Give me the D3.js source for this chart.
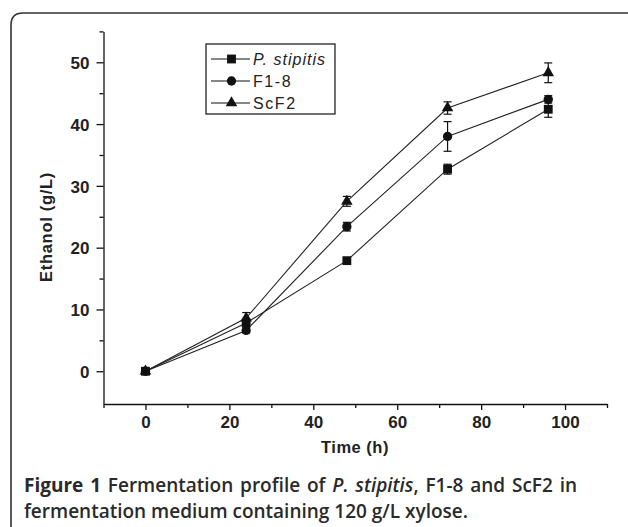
<!DOCTYPE html>
<html>
<head>
<meta charset="utf-8">
<script src="https://cdn.jsdelivr.net/npm/d3@7"></script>
<style>
  body { margin: 0; background: #fff; }
  svg { display: block; }
</style>
</head>
<body>
<div class="chart"></div>
<script>
// Data
const times = [0, 24, 48, 72, 96];
const seriesNames = ['P. stipitis', 'F1-8', 'ScF2'];
const pStipitis = [0, 7.8, 17.9, 32.7, 42.4];
const pStipitisErr = [0.3, 0.5, 0.4, 0.8, 1.3];
const f18 = [0, 6.6, 23.4, 38.0, 44.0];
const f18Err = [0.3, 0.4, 0.7, 2.4, 0.6];
const scf2 = [0, 8.6, 27.5, 42.6, 48.3];
const scf2Err = [0.3, 0.9, 0.8, 1.0, 1.6];
const xTicks = [0, 20, 40, 60, 80, 100];
const xMinor = [-10, 10, 30, 50, 70, 90, 110];
const yTicks = [0, 10, 20, 30, 40, 50];
const yMinor = [5, 15, 25, 35, 45, 55];

const width = 628, height = 527;
const ink = '#111';
const sans = '"Liberation Sans", Arial, sans-serif';

const svg = d3.select('.chart').append('svg')
  .attr('width', width)
  .attr('height', height);

svg.append('rect').attr('width', width).attr('height', height).attr('fill', '#fff');

// Figure frame (rounded top-left corner)
svg.append('path')
  .attr('d', 'M11,527 L11,25 Q11,13 23,13 L628,13')
  .attr('fill', 'none')
  .attr('stroke', '#333')
  .attr('stroke-width', 1.6);

const x = d3.scaleLinear().domain([-10, 110]).range([103.5, 607]);
const y = d3.scaleLinear().domain([-5.3, 55]).range([404, 31.4]);

const tickFont = g => g.attr('font-family', sans)
  .attr('font-size', 17)
  .attr('font-weight', 'bold');

// Minor ticks
svg.append('g')
  .attr('transform', `translate(0,${y.range()[0]})`)
  .call(d3.axisBottom(x).tickValues(xMinor).tickSize(4).tickFormat('').tickSizeOuter(0))
  .call(g => g.select('.domain').remove())
  .call(g => g.selectAll('line').attr('stroke', ink).attr('stroke-width', 1.3));

svg.append('g')
  .attr('transform', `translate(${x.range()[0]},0)`)
  .call(d3.axisLeft(y).tickValues(yMinor).tickSize(4).tickFormat('').tickSizeOuter(0))
  .call(g => g.select('.domain').remove())
  .call(g => g.selectAll('line').attr('stroke', ink).attr('stroke-width', 1.3));

// Major axes
svg.append('g')
  .attr('transform', `translate(0,${y.range()[0]})`)
  .call(d3.axisBottom(x).tickValues(xTicks).tickSize(6).tickPadding(6).tickSizeOuter(0))
  .call(tickFont)
  .call(g => g.select('.domain').attr('stroke', ink).attr('stroke-width', 1.3))
  .call(g => g.selectAll('line').attr('stroke', ink).attr('stroke-width', 1.3))
  .call(g => g.selectAll('text').attr('fill', '#222'));

svg.append('g')
  .attr('transform', `translate(${x.range()[0]},0)`)
  .call(d3.axisLeft(y).tickValues(yTicks).tickSize(7).tickPadding(7).tickSizeOuter(0))
  .call(tickFont)
  .call(g => g.select('.domain').attr('stroke', ink).attr('stroke-width', 1.3))
  .call(g => g.selectAll('line').attr('stroke', ink).attr('stroke-width', 1.3))
  .call(g => g.selectAll('text').attr('fill', '#222').attr('dy', '0.36em'));

// Axis titles
svg.append('text')
  .attr('x', 355)
  .attr('y', 453)
  .attr('text-anchor', 'middle')
  .attr('font-family', sans)
  .attr('font-size', 16.5)
  .attr('font-weight', 'bold')
  .attr('letter-spacing', 0.5)
  .attr('fill', '#222')
  .text('Time (h)');

svg.append('text')
  .attr('transform', 'translate(51.5,227) rotate(-90)')
  .attr('text-anchor', 'middle')
  .attr('font-family', sans)
  .attr('font-size', 16.5)
  .attr('font-weight', 'bold')
  .attr('letter-spacing', 0.7)
  .attr('fill', '#222')
  .text('Ethanol (g/L)');

// Series
const series = [
  { name: seriesNames[0], values: pStipitis, err: pStipitisErr, symbol: d3.symbolSquare, size: 78 },
  { name: seriesNames[1], values: f18, err: f18Err, symbol: d3.symbolCircle, size: 68 },
  { name: seriesNames[2], values: scf2, err: scf2Err, symbol: d3.symbolTriangle, size: 58 }
];

const line = d3.line()
  .x(d => x(d.t))
  .y(d => y(d.v));

series.forEach(s => {
  const pts = times.map((t, i) => ({ t: t, v: s.values[i], e: s.err[i] }));
  const g = svg.append('g').attr('class', 'series');

  g.append('path')
    .datum(pts)
    .attr('fill', 'none')
    .attr('stroke', '#222')
    .attr('stroke-width', 1.1)
    .attr('d', line);

  // Error bars
  const eb = g.selectAll('.err').data(pts).join('g').attr('class', 'err');
  eb.append('line')
    .attr('x1', d => x(d.t)).attr('x2', d => x(d.t))
    .attr('y1', d => y(d.v - d.e)).attr('y2', d => y(d.v + d.e))
    .attr('stroke', ink).attr('stroke-width', 1.2);
  eb.append('line')
    .attr('x1', d => x(d.t) - 4).attr('x2', d => x(d.t) + 4)
    .attr('y1', d => y(d.v + d.e)).attr('y2', d => y(d.v + d.e))
    .attr('stroke', ink).attr('stroke-width', 1.2);
  eb.append('line')
    .attr('x1', d => x(d.t) - 4).attr('x2', d => x(d.t) + 4)
    .attr('y1', d => y(d.v - d.e)).attr('y2', d => y(d.v - d.e))
    .attr('stroke', ink).attr('stroke-width', 1.2);

  g.selectAll('.marker').data(pts).join('path')
    .attr('class', 'marker')
    .attr('transform', d => `translate(${x(d.t)},${y(d.v)})`)
    .attr('d', d3.symbol().type(s.symbol).size(s.size))
    .attr('fill', ink);
});

// Legend
const legend = svg.append('g').attr('transform', 'translate(206,44)');
legend.append('rect')
  .attr('width', 129).attr('height', 70)
  .attr('fill', '#fff').attr('stroke', ink).attr('stroke-width', 1.2);

series.forEach((s, i) => {
  const row = legend.append('g').attr('transform', `translate(0,${15 + i * 22})`);
  row.append('line')
    .attr('x1', 5).attr('x2', 44)
    .attr('stroke', ink).attr('stroke-width', 1.2);
  row.append('path')
    .attr('transform', 'translate(25.5,0)')
    .attr('d', d3.symbol().type(s.symbol).size(s.size))
    .attr('fill', ink);
  row.append('text')
    .attr('x', 47).attr('dy', '0.36em')
    .attr('font-family', sans)
    .attr('font-size', 16)
    .attr('letter-spacing', i === 0 ? 1 : 1.6)
    .attr('font-style', i === 0 ? 'italic' : 'normal')
    .attr('fill', '#222')
    .text(s.name);
});

// Caption (first line justified to the column width)
const cap = svg.append('g')
  .attr('font-family', '"Open Sans", "Noto Sans", sans-serif')
  .attr('font-size', 19)
  .attr('font-weight', 600)
  .attr('fill', '#2a2a2a');

const l1 = cap.append('text').attr('x', 24).attr('y', 492);
l1.append('tspan').attr('font-weight', 700).text('Figure 1');
l1.append('tspan').text(' Fermentation profile of ');
l1.append('tspan').attr('font-style', 'italic').text('P. stipitis');
l1.append('tspan').text(', F1-8 and ScF2 in');

const lineWidth = 553;
const natural = l1.node().getComputedTextLength();
if (natural < lineWidth) l1.attr('word-spacing', (lineWidth - natural) / 10);

cap.append('text').attr('x', 24).attr('y', 518)
  .text('fermentation medium containing 120 g/L xylose.');
</script>
</body>
</html>
